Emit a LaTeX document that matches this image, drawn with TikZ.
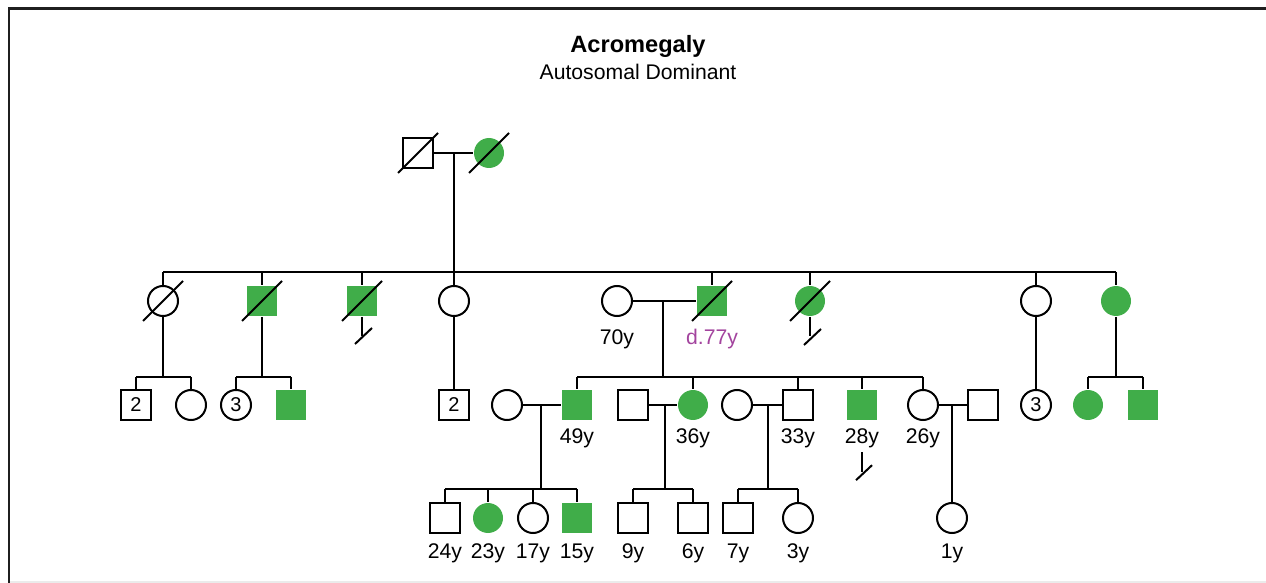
\documentclass[tikz,border=0pt]{standalone}
\usepackage{fontspec}
\setmainfont{Liberation Sans}
\definecolor{affgreen}{RGB}{64,173,73}
\definecolor{dpurple}{RGB}{163,68,158}

\begin{document}
\begin{tikzpicture}[x=0.5pt, y=-0.5pt, line width=1pt,
male/.style={draw, rectangle, minimum size=15pt, inner sep=0pt, font=\fontsize{10}{10}\selectfont},
female/.style={draw, circle, minimum size=15pt, inner sep=0pt, font=\fontsize{10}{10}\selectfont},
aff/.style={fill=affgreen, draw=none},
lbl/.style={inner sep=0pt, font=\fontsize{10.6}{12}\selectfont},
gen2/.style={lbl, label distance=5.8pt},
gen3/.style={lbl, label distance=3.5pt},
gen4/.style={lbl, label distance=4.5pt}]
\useasboundingbox (0,0) rectangle (1266,583);
\draw[line width=1.2pt, black!88] (8.7,583) -- (8.7,8.7) -- (1266,8.7);
\draw[black!8, line width=0.6pt] (10,582) -- (1266,582);

\node[font=\fontsize{11.8}{14}\selectfont\bfseries] (title) at (638,46) {Acromegaly};
\node[lbl] (sub) at (638,72) {Autosomal Dominant};

\node[male] (gf) at (418,153) {};
\node[female, aff] (gm) at (489,153) {};
\coordinate (m1) at (454,153);
\coordinate (s1) at (454,272);

\node[female] (a1) at (163,301) {};
\node[male, aff] (a2) at (262,301) {};
\node[male, aff] (a3) at (362,301) {};
\node[female] (a4) at (454,301) {};
\node[female, label={[gen2]below:70y}] (w5) at (617,301) {};
\node[male, aff, label={[gen2, dpurple]below:d.77y}] (a6) at (712,301) {};
\node[female, aff] (a7) at (810,301) {};
\node[female] (a8) at (1036,301) {};
\node[female, aff] (a9) at (1116,301) {};
\coordinate (m2) at (663,301);
\coordinate (s2) at (663,377);

\node[male] (b1) at (136,405) {2};
\node[female] (b2) at (191,405) {};
\node[female] (b3) at (236,405) {3};
\node[male, aff] (b4) at (291,405) {};
\node[male] (b5) at (454,405) {2};
\node[female] (c1) at (507,405) {};
\node[male, aff, label={[gen3]below:49y}] (b6) at (577,405) {};
\node[male] (c2) at (633,405) {};
\node[female, aff, label={[gen3]below:36y}] (b7) at (693,405) {};
\node[female] (c3) at (737,405) {};
\node[male, label={[gen3]below:33y}] (b8) at (798,405) {};
\node[male, aff, label={[gen3, name=l9]below:28y}] (b9) at (862,405) {};
\node[female, label={[gen3]below:26y}] (b10) at (923,405) {};
\node[male] (c4) at (983,405) {};
\node[female] (b11) at (1036,405) {3};
\node[female, aff] (b12) at (1088,405) {};
\node[male, aff] (b13) at (1143,405) {};
\coordinate (m3) at (541,405);
\coordinate (s3) at (541,489);
\coordinate (m4) at (665,405);
\coordinate (s4) at (665,489);
\coordinate (m5) at (768,405);
\coordinate (s5) at (768,489);
\coordinate (m6) at (952,405);

\node[male, label={[gen4]below:24y}] (d1) at (445,518) {};
\node[female, aff, label={[gen4]below:23y}] (d2) at (488,518) {};
\node[female, label={[gen4]below:17y}] (d3) at (533,518) {};
\node[male, aff, label={[gen4]below:15y}] (d4) at (577,518) {};
\node[male, label={[gen4]below:9y}] (d5) at (633,518) {};
\node[male, label={[gen4]below:6y}] (d6) at (693,518) {};
\node[male, label={[gen4]below:7y}] (d7) at (738,518) {};
\node[female, label={[gen4]below:3y}] (d8) at (798,518) {};
\node[female, label={[gen4]below:1y}] (d9) at (952,518) {};

\draw (gf) -- (gm);
\draw (m1) -- (s1);
\draw (a1 |- s1) -- (a9 |- s1);
\foreach \c in {a1,a2,a3,a4,a6,a7,a8,a9}
  \draw (\c |- s1) -- (\c);

\draw (w5) -- (a6);
\draw (m2) -- (s2);
\draw (b6 |- s2) -- (b10 |- s2);
\foreach \c in {b6,b7,b8,b9,b10}
  \draw (\c |- s2) -- (\c);

\draw (a1) -- (a1 |- s2);
\draw (b1 |- s2) -- (b2 |- s2);
\draw (a2) -- (a2 |- s2);
\draw (b3 |- s2) -- (b4 |- s2);
\draw (a9) -- (a9 |- s2);
\draw (b12 |- s2) -- (b13 |- s2);
\foreach \c in {b1,b2,b3,b4,b12,b13}
  \draw (\c |- s2) -- (\c);
\draw (a4) -- (b5);
\draw (a8) -- (b11);

\draw (c1) -- (b6);
\draw (m3) -- (s3);
\draw (d1 |- s3) -- (d4 |- s3);
\draw (c2) -- (b7);
\draw (m4) -- (s4);
\draw (d5 |- s4) -- (d6 |- s4);
\draw (c3) -- (b8);
\draw (m5) -- (s5);
\draw (d7 |- s5) -- (d8 |- s5);
\foreach \c in {d1,d2,d3,d4,d5,d6,d7,d8}
  \draw (\c |- s3) -- (\c);
\draw (b10) -- (c4);
\draw (m6) -- (d9);

\foreach \p in {gf,gm,a1,a2,a3,a6,a7}
  \draw (\p.center) ++(-20,20) -- ++(40,-40);

\draw (a3) -- ++(0,35) coordinate (n3);
\draw (n3) ++(-7,8) -- ++(17,-16);
\draw (a7) -- ++(0,35) coordinate (n7);
\draw (n7) ++(-6,9) -- ++(17,-16);
\draw ([yshift=-1.5pt]l9.south) -- ++(0,20) coordinate (n9);
\draw (n9) ++(-6,8) -- ++(16,-15);
\end{tikzpicture}
\end{document}
